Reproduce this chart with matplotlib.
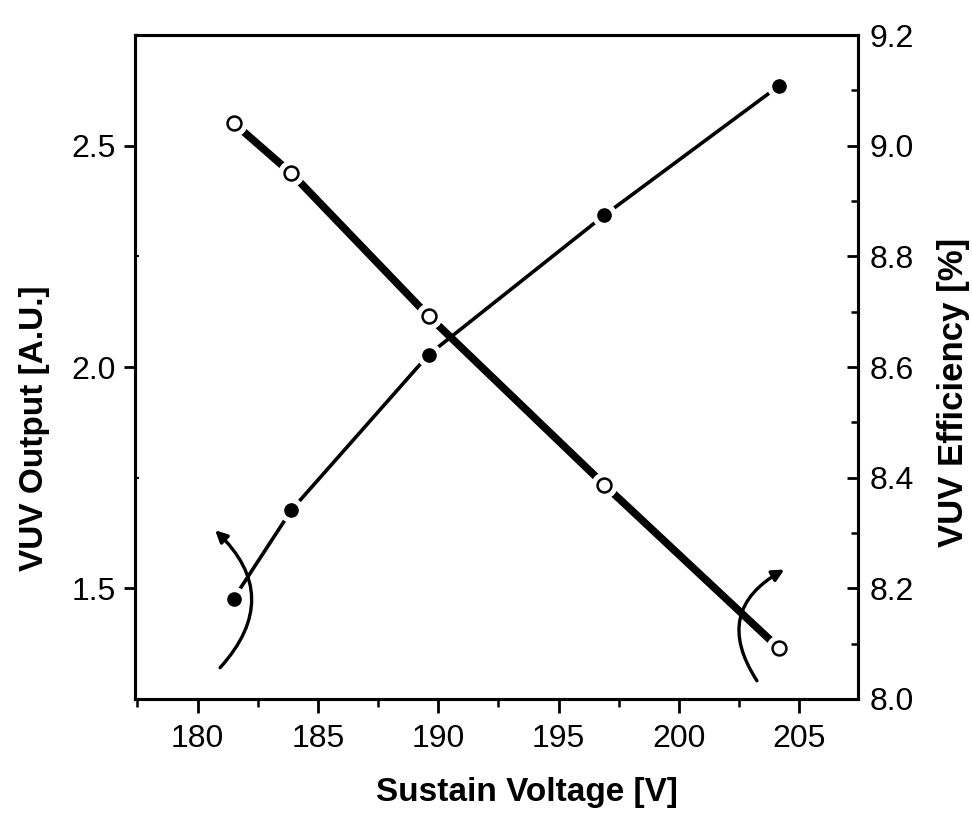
import matplotlib
matplotlib.use("Agg")
import matplotlib.pyplot as plt
from matplotlib.ticker import MultipleLocator, FormatStrFormatter
from matplotlib.patches import FancyArrowPatch

# ---- data ----
voltage = [181.5, 183.9, 189.6, 196.9, 204.15]          # Sustain Voltage [V]
vuv_output = [1.477, 1.677, 2.028, 2.343, 2.635]        # VUV Output [A.U.] (filled circles, left axis)
vuv_efficiency = [9.041, 8.950, 8.692, 8.387, 8.092]    # VUV Efficiency [%] (open circles, right axis)

x_ticks = [180, 185, 190, 195, 200, 205]
left_ticks = [1.5, 2.0, 2.5]
right_ticks = [8.0, 8.2, 8.4, 8.6, 8.8, 9.0, 9.2]

plt.rcParams['font.family'] = ['Liberation Sans', 'DejaVu Sans']

fig = plt.figure(figsize=(9.72, 8.16), dpi=100)
ax = fig.add_axes([0.1389, 0.1434, 0.883 - 0.1389, 0.957 - 0.1434])
ax2 = ax.twinx()

# VUV output (left axis) - thin line, filled circles
ax.plot(voltage, vuv_output, color='black', lw=2.6, zorder=2, solid_capstyle='round')
ax.plot(voltage, vuv_output, ls='none', marker='o', ms=17, color='white', zorder=3)
ax.plot(voltage, vuv_output, ls='none', marker='o', ms=9.5, color='black', zorder=4)

# VUV efficiency (right axis) - thick line, open circles
ax2.plot(voltage, vuv_efficiency, color='black', lw=5.5, zorder=2, solid_capstyle='round')
ax2.plot(voltage, vuv_efficiency, ls='none', marker='o', ms=18, color='white', zorder=3)
ax2.plot(voltage, vuv_efficiency, ls='none', marker='o', ms=10, mfc='white', mec='black', mew=1.8, zorder=4)

ax.set_xlim(177.4, 207.45)
ax.set_ylim(1.25, 2.75)
ax2.set_ylim(8.0, 9.2)

ax.set_xticks(x_ticks)
ax.xaxis.set_minor_locator(MultipleLocator(2.5))
ax.set_yticks(left_ticks)
ax.yaxis.set_minor_locator(MultipleLocator(0.25))
ax.yaxis.set_major_formatter(FormatStrFormatter('%.1f'))
ax2.set_yticks(right_ticks)
ax2.yaxis.set_minor_locator(MultipleLocator(0.1))
ax2.yaxis.set_major_formatter(FormatStrFormatter('%.1f'))

for a in (ax, ax2):
    for s in a.spines.values():
        s.set_linewidth(2.2)

ax.tick_params(axis='x', which='major', direction='out', length=10, width=2, labelsize=23, pad=8, top=False)
ax.tick_params(axis='x', which='minor', direction='out', length=6, width=1.8, top=False)
ax.tick_params(axis='y', which='major', direction='out', length=8, width=2, labelsize=23, pad=6, right=False)
ax.tick_params(axis='y', which='minor', direction='in', length=3, width=1.5, right=False)
ax2.tick_params(axis='y', which='major', direction='in', length=8, width=2, labelsize=23, pad=8, left=False)
ax2.tick_params(axis='y', which='minor', direction='in', length=5, width=1.8, left=False)

ax.set_xlabel('Sustain Voltage [V]', fontsize=24, fontweight='bold')
ax.xaxis.set_label_coords(0.542, -0.117)
ax.set_ylabel('VUV Output [A.U.]', fontsize=24, fontweight='bold')
ax.yaxis.set_label_coords(-0.1175, 0.408)
ax2.set_ylabel('VUV Efficiency [%]', fontsize=25, fontweight='bold')
ax2.yaxis.set_label_coords(1.109, 0.4616)

# curved indicator arrows
arr1 = FancyArrowPatch((0.115, 0.044), (0.108, 0.257), transform=ax.transAxes,
                       connectionstyle='arc3,rad=0.5', arrowstyle='-|>,head_length=7,head_width=3.5',
                       color='black', lw=2.4, zorder=5)
arr2 = FancyArrowPatch((0.862, 0.024), (0.901, 0.197), transform=ax.transAxes,
                       connectionstyle='arc3,rad=-0.55', arrowstyle='-|>,head_length=7,head_width=3.5',
                       color='black', lw=2.4, zorder=5)
ax2.add_patch(arr1)
ax2.add_patch(arr2)

fig.savefig('out.png', dpi=100)
